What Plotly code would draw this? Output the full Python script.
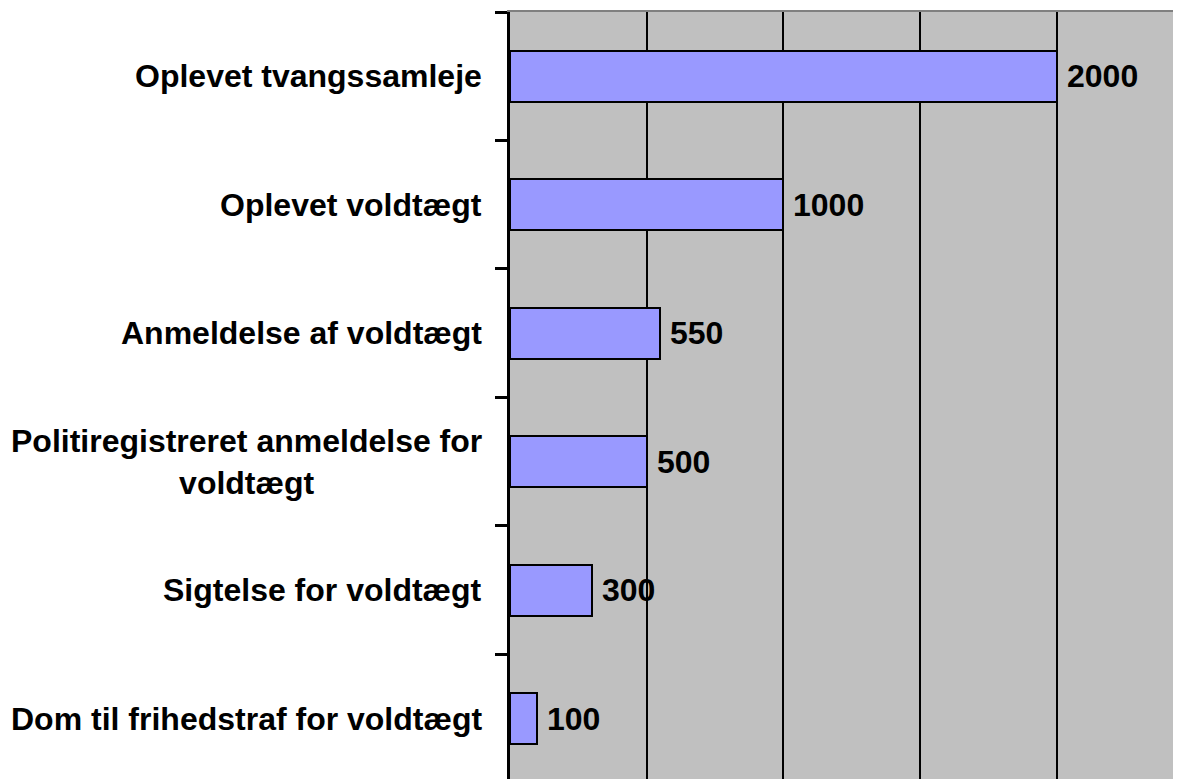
import plotly.graph_objects as go

categories = [
    "Oplevet tvangssamleje",
    "Oplevet voldtægt",
    "Anmeldelse af voldtægt",
    "Politiregistreret anmeldelse for<br>voldtægt",
    "Sigtelse for voldtægt",
    "Dom til frihedstraf for voldtægt",
]
values = [2000, 1000, 550, 500, 300, 100]

FONT = "Arial, Liberation Sans, sans-serif"
FS = 32

fig = go.Figure()
fig.add_trace(go.Bar(
    x=values,
    y=list(range(len(categories))),
    orientation="h",
    width=0.4,
    marker=dict(color="#9999FF", line=dict(color="black", width=2)),
    hoverinfo="skip",
))

annotations = []
for i, (cat, v) in enumerate(zip(categories, values)):
    annotations.append(dict(
        x=0, xref="paper", y=i, yref="y",
        text=f"<b>{cat}</b>", showarrow=False,
        xanchor="right", yanchor="middle", align="center",
        xshift=-26,
        font=dict(family=FONT, size=FS, color="black"),
    ))
    annotations.append(dict(
        x=v, xref="x", y=i, yref="y",
        text=f"<b>{v}</b>", showarrow=False,
        xanchor="left", yanchor="middle", xshift=8,
        font=dict(family=FONT, size=FS, color="black"),
    ))

fig.update_layout(
    width=1173, height=771,
    margin=dict(l=502, r=0, t=4, b=0),
    paper_bgcolor="white",
    plot_bgcolor="#C0C0C0",
    showlegend=False,
    bargap=0,
    annotations=annotations,
    xaxis=dict(
        range=[0, 2455], dtick=500, tick0=0,
        showgrid=True, gridcolor="black", gridwidth=2,
        showticklabels=False, ticks="",
        zeroline=False,
        side="top", showline=True, linecolor="#808080", linewidth=2,
    ),
    yaxis=dict(
        range=[5.469, -0.5],
        showgrid=False, zeroline=False,
        showticklabels=False,
        tickmode="array", tickvals=[-0.5, 0.5, 1.5, 2.5, 3.5, 4.5, 5.5],
        ticks="outside", ticklen=12, tickwidth=2.5, tickcolor="black",
        showline=True, linecolor="black", linewidth=3,
    ),
)

fig.write_html("out.html")
